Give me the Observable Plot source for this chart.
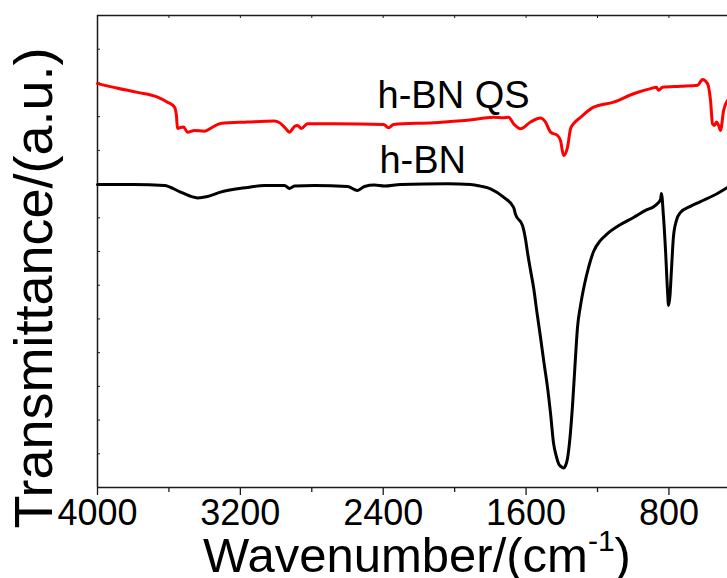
<!DOCTYPE html>
<html>
<head>
<meta charset="utf-8">
<script src="https://cdn.jsdelivr.net/npm/d3@7"></script>
<script src="https://cdn.jsdelivr.net/npm/@observablehq/plot@0.6"></script>
<style>
  html, body { margin: 0; padding: 0; background: white; }
  #chart svg { display: block; }
</style>
</head>
<body>
<div id="chart"></div>
<script>
// ---- Data ----
const hbnWavenumber = [4000,3798,3625,3535,3440,3384,3311,3160,3065,2953,2925,2897,2785,2600,2544,2505,2449,2393,2303,2040,1911,1855,1799,1726,1670,1659,1620,1603,1592,1575,1558,1539,1519,1500,1480,1463,1446,1432,1418,1404,1390,1379,1368,1354,1340,1326,1312,1295,1273,1250,1222,1183,1144,1071,998,931,875,847,842,831,819,808,802,794,786,775,758,735,680,623,550,472];
const hbnValue = [8.99,8.99,8.96,8.76,8.59,8.63,8.76,8.90,8.96,8.96,8.87,8.94,8.96,8.93,8.81,8.93,8.97,8.94,8.99,9.01,8.99,8.94,8.86,8.61,8.31,8.10,7.77,7.36,6.97,6.44,5.93,5.19,4.45,3.71,2.97,2.20,1.31,0.95,0.71,0.62,0.58,0.65,0.86,1.48,2.43,3.62,4.75,5.40,6.02,6.53,7.00,7.33,7.53,7.80,8.01,8.22,8.37,8.54,8.72,8.07,7.03,5.84,5.40,5.70,6.44,7.42,7.92,8.16,8.34,8.48,8.66,8.90];

const qsWavenumber = [4000,3888,3776,3664,3608,3569,3558,3552,3535,3518,3496,3457,3401,3367,3311,3160,3009,2975,2942,2925,2897,2880,2858,2824,2678,2398,2370,2342,2118,1928,1782,1726,1698,1670,1631,1575,1519,1491,1463,1424,1407,1390,1368,1351,1334,1295,1222,1110,998,903,870,858,836,735,640,612,584,567,556,545,534,522,511,494,472];
const qsValue = [11.98,11.84,11.72,11.58,11.43,11.28,11.03,10.65,10.68,10.69,10.54,10.59,10.57,10.65,10.80,10.84,10.87,10.80,10.62,10.54,10.71,10.74,10.65,10.79,10.79,10.77,10.67,10.77,10.82,10.89,10.98,10.97,10.98,10.79,10.64,10.84,10.96,10.84,10.54,10.44,10.29,9.85,10.09,10.64,10.79,10.98,11.28,11.43,11.68,11.83,11.87,11.78,11.87,11.90,11.93,12.10,11.98,11.48,10.79,10.74,10.84,10.74,10.59,11.18,11.48];

const seriesNames = ["h-BN", "h-BN QS"];
const seriesColors = ["#000000", "#ff0000"];
const labelText = ["h-BN QS", "h-BN"];
const labelX = [2432, 2421];
const labelY = [11.27, 9.34];

const xMajorTicks = [4000, 3200, 2400, 1600, 800];
const xMinorTicks = [3600, 2800, 2000, 1200];
const xTopTicks = [4000, 3600, 3200, 2800, 2400, 2000, 1600, 1200, 800];
const yTicks = [1,2,3,4,5,6,7,8,9,10,11,12,13];

const xTitle = "Wavenumber/(cm";
const xTitleSup = "-1";
const yTitle = "Transmittance/(a.u.)";

// ---- Layout ----
const W = 727, H = 578;
const mL = 97, mR = 0, mT = 15, mB = 91;
const xDomain = [4000, 472];
const yDomain = [0, 14];
const cmPerPx = (xDomain[0] - xDomain[1]) / (W - mL - mR);
const unitPerPx = (yDomain[1] - yDomain[0]) / (H - mT - mB);

const rows = (xs, ys, name) => xs.map((x, i) => ({wn: x, t: ys[i], series: name}));
const hbn = rows(hbnWavenumber, hbnValue, seriesNames[0]);
const qs = rows(qsWavenumber, qsValue, seriesNames[1]);
const labels = labelText.map((s, i) => ({s, x: labelX[i], y: labelY[i]}));

const font = "'Liberation Sans', Arial, Helvetica, sans-serif";
const axisColor = "#1a1a1a";

const chart = Plot.plot({
  width: W, height: H,
  marginLeft: mL, marginRight: mR, marginTop: mT, marginBottom: mB,
  style: {fontFamily: font, background: "white", color: "black", overflow: "visible"},
  x: {domain: xDomain, axis: null},
  y: {domain: yDomain, axis: null},
  marks: [
    Plot.ruleX([xDomain[0]], {stroke: axisColor, strokeWidth: 1.5}),
    Plot.ruleY([yDomain[0], yDomain[1]], {stroke: axisColor, strokeWidth: 1.5}),
    Plot.ruleX(xTopTicks, {y1: yDomain[1], y2: yDomain[1] - 3 * unitPerPx, stroke: axisColor, strokeWidth: 1}),
    Plot.ruleY(yTicks, {x1: xDomain[0], x2: xDomain[0] - 3 * cmPerPx, stroke: axisColor, strokeWidth: 1}),
    Plot.axisX(xMajorTicks, {anchor: "bottom", tickSize: 8, tickPadding: 4, fontSize: 36, label: null, tickFormat: d => String(d), stroke: axisColor, strokeWidth: 1.3}),
    Plot.axisX(xMinorTicks, {anchor: "bottom", tickSize: 5, label: null, tickFormat: () => "", stroke: axisColor, strokeWidth: 1.3}),
    Plot.line(hbn, {x: "wn", y: "t", stroke: seriesColors[0], strokeWidth: 3, curve: "monotone-x"}),
    Plot.line(qs, {x: "wn", y: "t", stroke: seriesColors[1], strokeWidth: 3, curve: "monotone-x"}),
    Plot.text(labels, {x: "x", y: "y", text: "s", textAnchor: "start", lineAnchor: "bottom", fontSize: 38, fill: "black"})
  ]
});
document.getElementById("chart").appendChild(chart);

const svg = d3.select(chart);
const xt = svg.append("text")
  .attr("x", 417)
  .attr("y", H - 6)
  .attr("text-anchor", "middle")
  .attr("font-family", font)
  .attr("font-size", 49)
  .attr("fill", "black");
xt.append("tspan").text(xTitle);
xt.append("tspan").attr("font-size", 30).attr("dy", -21).text(xTitleSup);
xt.append("tspan").attr("dy", 21).text(")");

svg.append("text")
  .attr("transform", `translate(52, 288) rotate(-90)`)
  .attr("text-anchor", "middle")
  .attr("font-family", font)
  .attr("font-size", 54)
  .attr("fill", "black")
  .text(yTitle);
</script>
</body>
</html>
